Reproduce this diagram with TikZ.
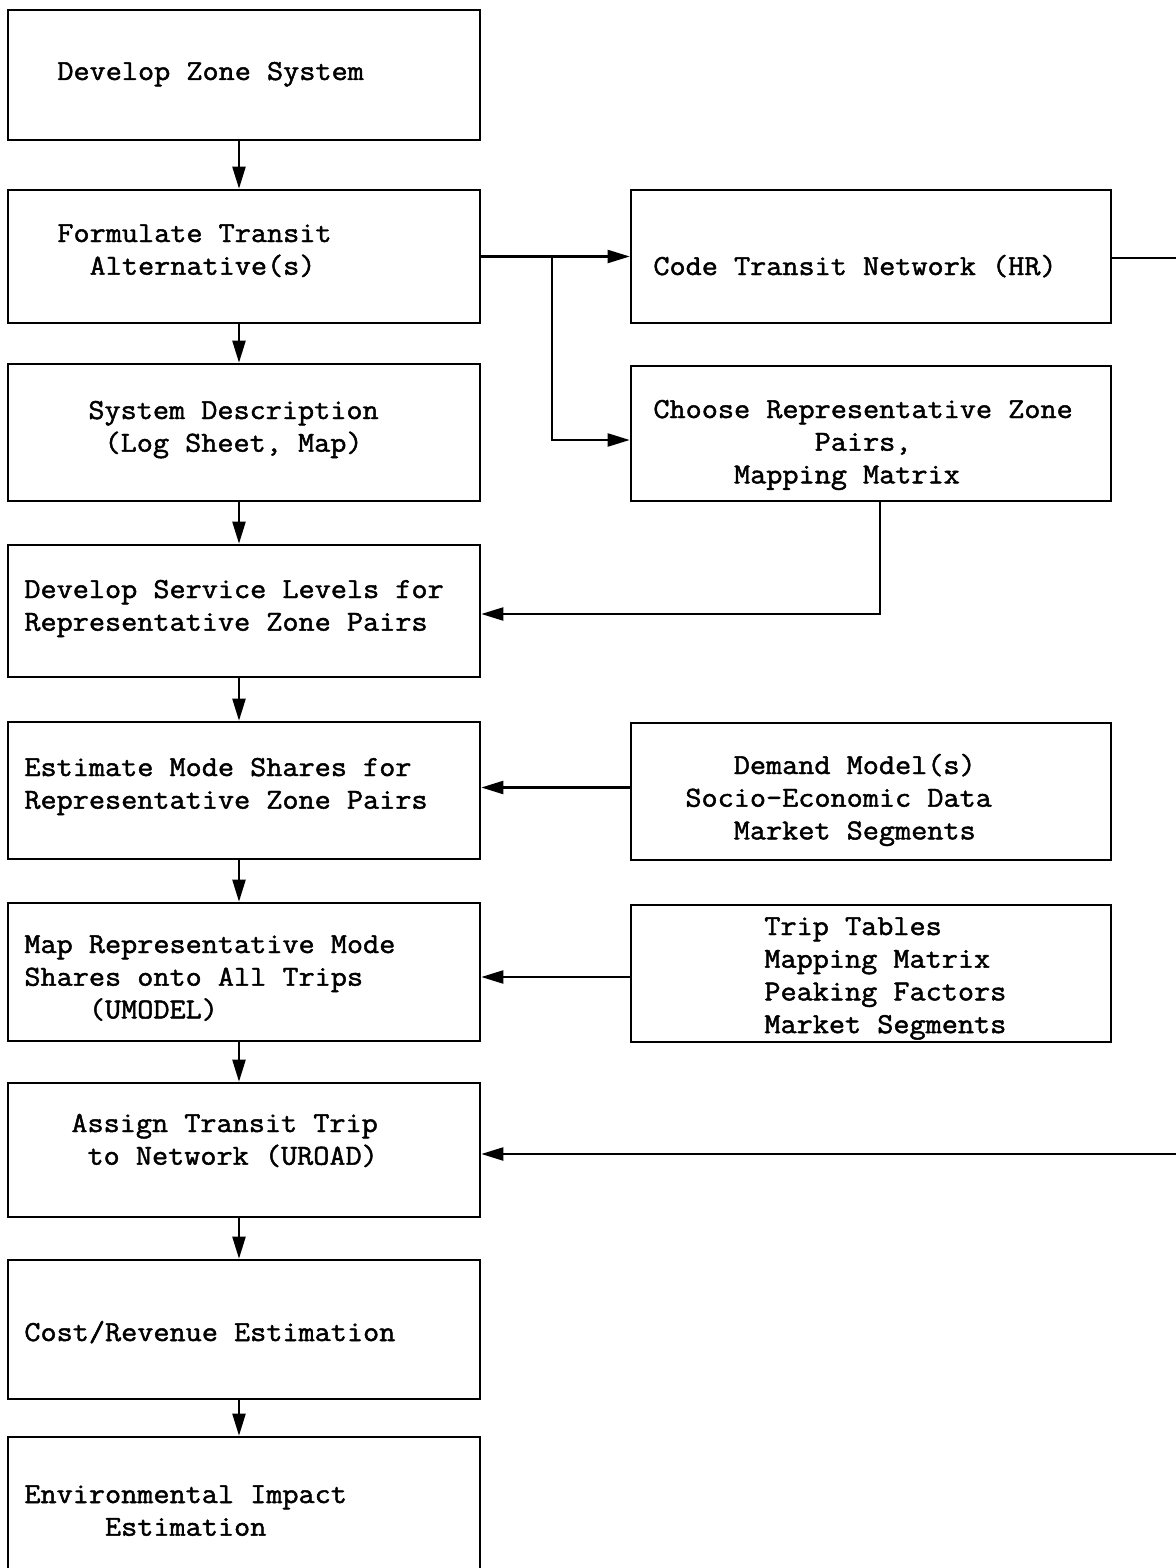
\documentclass[tikz,border=0pt]{standalone}
\usepackage{fontspec}
\setmonofont{lmmono12-regular}[Extension=.otf,FakeBold=1.6,FakeStretch=1.08]
\usetikzlibrary{arrows.meta,calc}
\begin{document}
\begin{tikzpicture}[x=0.5pt,y=-0.5pt,
  box/.style={draw,line width=1.3pt,inner sep=0pt,rectangle},
  lbox/.style={box,minimum width=236pt},
  rbox/.style={box,minimum width=240pt},
  % anchored at the baseline of the last line of each label
  txt/.style={anchor=base west,inner sep=0pt,align=left,
    font=\ttfamily\fontsize{14.5pt}{16.35pt}\selectfont},
  arr/.style={line width=1.1pt,-{Triangle[length=11pt,width=6.5pt]}},
  ln/.style={line width=1.1pt}]
\useasboundingbox (0,0) rectangle (1176,1568);

% left column of process steps
\node[lbox,minimum height=65pt]   (b1) at (244,75)     {};
\node[lbox,minimum height=66.5pt] (b2) at (244,256.5)  {};
\node[lbox,minimum height=68.5pt] (b3) at (244,432.5)  {};
\node[lbox,minimum height=66pt]   (b4) at (244,611)    {};
\node[lbox,minimum height=68.5pt] (b5) at (244,790.5)  {};
\node[lbox,minimum height=69pt]   (b6) at (244,972)    {};
\node[lbox,minimum height=67pt]   (b7) at (244,1150)   {};
\node[lbox,minimum height=69.5pt] (b8) at (244,1329.5) {};
\node[lbox,minimum height=86.5pt] (b9) at (244,1523.5) {};

% right column of inputs
\node[rbox,minimum height=66.5pt] (cA) at (871,256.5) {};
\node[rbox,minimum height=67.5pt] (cB) at (871,433.5) {};
\node[rbox,minimum height=68.5pt] (cC) at (871,791.5) {};
\node[rbox,minimum height=68.5pt] (cD) at (871,973.5) {};

% labels
\node[txt] (t1) at (57,80)     {Develop Zone System};
\node[txt] (t2) at (57,274.7)  {Formulate Transit\\\phantom{xx}Alternative(s)};
\node[txt] (t3) at (88,451.7)  {System Description\\\phantom{x}(Log Sheet, Map)};
\node[txt] (t4) at (24,630.7)  {Develop Service Levels for\\Representative Zone Pairs};
\node[txt] (t5) at (24,808.7)  {Estimate Mode Shares for\\Representative Zone Pairs};
\node[txt] (t6) at (24,1018.4) {Map Representative Mode\\Shares onto All Trips\\\phantom{xxxx}(UMODEL)};
\node[txt] (t7) at (71,1164.7) {Assign Transit Trip\\\phantom{x}to Network (UROAD)};
\node[txt] (t8) at (24,1341)   {Cost/Revenue Estimation};
\node[txt] (t9) at (24,1535.7) {Environmental Impact\\\phantom{xxxxx}Estimation};
\node[txt] (tA) at (653,275)   {Code Transit Network (HR)};
\node[txt] (tB) at (653,483.4) {Choose Representative Zone\\\phantom{xxxxxxxxxx}Pairs,\\\phantom{xxxxx}Mapping Matrix};
\node[txt] (tC) at (685,839.4) {\phantom{xxx}Demand Model(s)\\Socio-Economic Data\\\phantom{xxx}Market Segments};
\node[txt] (tD) at (764,1033.1){Trip Tables\\Mapping Matrix\\Peaking Factors\\Market Segments};

% main flow
\coordinate (vc) at (239,0);
\foreach \a/\b in {b1/b2,b2/b3,b3/b4,b4/b5,b5/b6,b6/b7,b7/b8,b8/b9}
  \draw[arr] (\a.south -| vc) -- (\b.north -| vc);

% side connections
\coordinate (br) at (552,256.5);
\draw[arr] (b2.east) -- (cA.west);
\draw[arr] (br) |- ($(cB.west)+(0,6.5)$);
\draw[arr] ($(cB.south)+(9,0)$) |- ($(b4.east)+(0,3)$);
\draw[arr] ($(cC.west)+(0,-4)$) -- ($(cC.west -| b5.east)+(0,-4)$);
\draw[arr] ($(cD.west)+(0,3.5)$) -- ($(cD.west -| b6.east)+(0,3.5)$);

% network code carried over to the assignment step
\coordinate (rt1) at (1176,258);
\coordinate (rt2) at (1176,1154);
\draw[ln] (cA.east |- rt1) -- (rt1);
\draw[arr] (rt2) -- (rt2 -| b7.east);
\end{tikzpicture}
\end{document}
